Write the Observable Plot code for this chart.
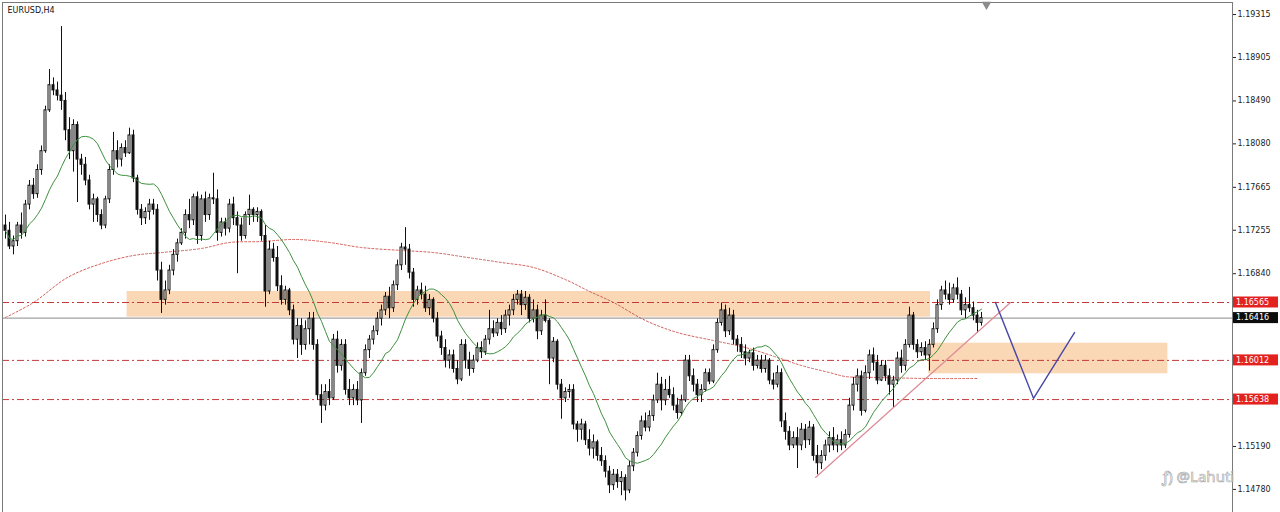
<!DOCTYPE html>
<html><head><meta charset="utf-8">
<script src="https://cdn.jsdelivr.net/npm/d3@7"></script>
<script src="https://cdn.jsdelivr.net/npm/@observablehq/plot@0.6"></script>
<style>
body{margin:0;background:#fff;}
#chart{width:1280px;height:512px;overflow:hidden;}
</style></head><body><div id="chart"></div>
<script>
const symbolName = "EURUSD,H4";
const watermark = "ƒ) @Lahuti";

const opens = [
1.1730,1.1725,1.1710,1.1715,1.1730,1.1723,1.1750,1.1768,1.1760,1.1783,
1.1801,1.1840,1.1864,1.1859,1.1854,1.1849,1.1821,1.1801,1.1826,1.1793,
1.1788,1.1773,1.1750,1.1755,1.1740,1.1730,1.1755,1.1783,1.1801,1.1793,
1.1804,1.1799,1.1816,1.1775,1.1745,1.1737,1.1743,1.1750,1.1745,1.1687,
1.1659,1.1668,1.1687,1.1702,1.1713,1.1723,1.1740,1.1735,1.1757,1.1720,
1.1755,1.1740,1.1756,1.1755,1.1723,1.1733,1.1727,1.1750,1.1737,1.1730,
1.1720,1.1740,1.1745,1.1740,1.1743,1.1720,1.1667,1.1707,1.1699,1.1672,
1.1659,1.1668,1.1649,1.1621,1.1634,1.1616,1.1631,1.1641,1.1616,1.1568,
1.1558,1.1571,1.1565,1.1621,1.1596,1.1616,1.1573,1.1565,1.1573,1.1563,
1.1589,1.1611,1.1621,1.1629,1.1641,1.1649,1.1662,1.1651,1.1673,1.1692,
1.1709,1.1707,1.1685,1.1659,1.1668,1.1664,1.1651,1.1659,1.1641,1.1624,
1.1613,1.1601,1.1606,1.1593,1.1583,1.1616,1.1601,1.1593,1.1601,1.1613,
1.1609,1.1621,1.1631,1.1627,1.1637,1.1631,1.1644,1.1649,1.1659,1.1664,
1.1654,1.1661,1.1641,1.1649,1.1629,1.1644,1.1639,1.1603,1.1619,1.1578,
1.1565,1.1571,1.1573,1.1540,1.1535,1.1540,1.1525,1.1517,1.1523,1.1510,
1.1505,1.1495,1.1482,1.1492,1.1485,1.1489,1.1477,1.1500,1.1513,1.1529,
1.1543,1.1537,1.1548,1.1563,1.1578,1.1563,1.1573,1.1568,1.1558,1.1551,
1.1563,1.1601,1.1586,1.1578,1.1568,1.1573,1.1589,1.1581,1.1611,1.1637,
1.1649,1.1629,1.1644,1.1621,1.1616,1.1609,1.1603,1.1608,1.1596,1.1601,
1.1593,1.1601,1.1582,1.1578,1.1589,1.1543,1.1533,1.1520,1.1527,1.1520,
1.1535,1.1525,1.1537,1.1510,1.1503,1.1510,1.1520,1.1527,1.1520,1.1525,
1.1520,1.1530,1.1558,1.1578,1.1586,1.1553,1.1589,1.1606,1.1599,1.1582,
1.1596,1.1586,1.1578,1.1582,1.1603,1.1596,1.1616,1.1644,1.1616,1.1609,
1.1613,1.1606,1.1616,1.1631,1.1654,1.1668,1.1664,1.1659,1.1670,1.1664,
1.1649,1.1654,1.1651,1.1644,1.1637];

const highs = [
1.1740,1.1733,1.1720,1.1733,1.1742,1.1754,1.1773,1.1775,1.1788,1.1806,
1.1844,1.1879,1.1871,1.1867,1.1920,1.1857,1.1833,1.1831,1.1829,1.1798,
1.1795,1.1778,1.1760,1.1757,1.1745,1.1758,1.1788,1.1819,1.1811,1.1808,
1.1811,1.1823,1.1821,1.1778,1.1750,1.1747,1.1755,1.1755,1.1750,1.1695,
1.1677,1.1692,1.1707,1.1717,1.1727,1.1745,1.1755,1.1760,1.1762,1.1759,
1.1762,1.1760,1.1780,1.1764,1.1737,1.1737,1.1755,1.1757,1.1743,1.1737,
1.1743,1.1759,1.1747,1.1747,1.1745,1.1730,1.1715,1.1713,1.1710,1.1682,
1.1672,1.1670,1.1654,1.1641,1.1641,1.1639,1.1647,1.1647,1.1621,1.1578,
1.1578,1.1583,1.1626,1.1629,1.1621,1.1621,1.1583,1.1578,1.1581,1.1593,
1.1616,1.1625,1.1634,1.1647,1.1654,1.1666,1.1671,1.1677,1.1697,1.1713,
1.1728,1.1712,1.1689,1.1672,1.1675,1.1672,1.1664,1.1661,1.1647,1.1629,
1.1621,1.1611,1.1611,1.1601,1.1621,1.1621,1.1609,1.1606,1.1618,1.1619,
1.1625,1.1649,1.1639,1.1641,1.1644,1.1649,1.1654,1.1664,1.1668,1.1668,
1.1667,1.1664,1.1659,1.1654,1.1649,1.1659,1.1641,1.1623,1.1621,1.1583,
1.1575,1.1578,1.1578,1.1543,1.1545,1.1543,1.1535,1.1530,1.1525,1.1518,
1.1510,1.1500,1.1497,1.1497,1.1495,1.1492,1.1505,1.1517,1.1533,1.1548,
1.1551,1.1553,1.1568,1.1589,1.1585,1.1583,1.1586,1.1575,1.1565,1.1568,
1.1606,1.1606,1.1593,1.1583,1.1578,1.1593,1.1593,1.1616,1.1641,1.1656,
1.1654,1.1651,1.1649,1.1625,1.1623,1.1616,1.1611,1.1613,1.1606,1.1606,
1.1606,1.1603,1.1589,1.1596,1.1593,1.1551,1.1538,1.1533,1.1537,1.1541,
1.1540,1.1543,1.1540,1.1520,1.1515,1.1525,1.1533,1.1537,1.1530,1.1533,
1.1535,1.1565,1.1585,1.1593,1.1591,1.1596,1.1611,1.1613,1.1606,1.1601,
1.1601,1.1593,1.1586,1.1609,1.1611,1.1621,1.1652,1.1647,1.1621,1.1618,
1.1619,1.1621,1.1637,1.1659,1.1672,1.1677,1.1675,1.1674,1.1680,1.1668,
1.1661,1.1671,1.1657,1.1649,1.1647];

const lows = [
1.1717,1.1707,1.1702,1.1710,1.1717,1.1719,1.1745,1.1755,1.1756,1.1778,
1.1799,1.1838,1.1854,1.1849,1.1840,1.1811,1.1793,1.1781,1.1752,1.1778,
1.1768,1.1745,1.1733,1.1733,1.1726,1.1727,1.1751,1.1778,1.1785,1.1786,
1.1795,1.1798,1.1771,1.1740,1.1730,1.1731,1.1735,1.1740,1.1677,1.1646,
1.1654,1.1664,1.1682,1.1695,1.1711,1.1717,1.1727,1.1730,1.1712,1.1715,
1.1733,1.1735,1.1750,1.1715,1.1719,1.1720,1.1723,1.1730,1.1684,1.1715,
1.1717,1.1730,1.1733,1.1733,1.1715,1.1652,1.1664,1.1695,1.1667,1.1654,
1.1654,1.1644,1.1616,1.1603,1.1606,1.1611,1.1616,1.1611,1.1563,1.1541,
1.1553,1.1558,1.1563,1.1589,1.1591,1.1568,1.1558,1.1558,1.1558,1.1541,
1.1586,1.1603,1.1616,1.1625,1.1634,1.1644,1.1641,1.1647,1.1668,1.1687,
1.1692,1.1679,1.1652,1.1654,1.1659,1.1647,1.1644,1.1637,1.1619,1.1606,
1.1594,1.1593,1.1589,1.1578,1.1581,1.1593,1.1586,1.1589,1.1599,1.1603,
1.1606,1.1616,1.1623,1.1624,1.1625,1.1627,1.1634,1.1644,1.1654,1.1644,
1.1649,1.1637,1.1637,1.1621,1.1625,1.1637,1.1578,1.1599,1.1573,1.1545,
1.1561,1.1565,1.1535,1.1523,1.1525,1.1520,1.1510,1.1507,1.1505,1.1500,
1.1489,1.1474,1.1477,1.1479,1.1472,1.1467,1.1474,1.1495,1.1509,1.1525,
1.1533,1.1533,1.1543,1.1560,1.1553,1.1558,1.1565,1.1553,1.1545,1.1548,
1.1561,1.1581,1.1571,1.1561,1.1561,1.1571,1.1578,1.1579,1.1608,1.1634,
1.1623,1.1625,1.1616,1.1609,1.1603,1.1596,1.1599,1.1591,1.1593,1.1589,
1.1589,1.1578,1.1573,1.1575,1.1537,1.1525,1.1515,1.1517,1.1498,1.1515,
1.1517,1.1520,1.1505,1.1492,1.1497,1.1505,1.1513,1.1515,1.1513,1.1515,
1.1517,1.1527,1.1553,1.1571,1.1548,1.1551,1.1583,1.1591,1.1578,1.1581,
1.1581,1.1568,1.1556,1.1578,1.1589,1.1591,1.1613,1.1611,1.1603,1.1605,
1.1601,1.1591,1.1613,1.1627,1.1649,1.1659,1.1654,1.1656,1.1659,1.1644,
1.1641,1.1647,1.1639,1.1627,1.1634];

const closes = [
1.1725,1.1710,1.1715,1.1730,1.1723,1.1750,1.1768,1.1760,1.1783,1.1801,
1.1840,1.1864,1.1859,1.1854,1.1849,1.1821,1.1801,1.1826,1.1793,1.1788,
1.1773,1.1750,1.1755,1.1740,1.1730,1.1755,1.1783,1.1801,1.1793,1.1804,
1.1799,1.1816,1.1775,1.1745,1.1737,1.1743,1.1750,1.1745,1.1687,1.1659,
1.1668,1.1687,1.1702,1.1713,1.1723,1.1740,1.1735,1.1757,1.1720,1.1755,
1.1740,1.1756,1.1755,1.1723,1.1733,1.1727,1.1750,1.1737,1.1730,1.1720,
1.1740,1.1745,1.1740,1.1743,1.1720,1.1667,1.1707,1.1699,1.1672,1.1659,
1.1668,1.1649,1.1621,1.1634,1.1616,1.1631,1.1641,1.1616,1.1568,1.1558,
1.1571,1.1565,1.1621,1.1596,1.1616,1.1573,1.1565,1.1573,1.1563,1.1589,
1.1611,1.1621,1.1629,1.1641,1.1649,1.1662,1.1651,1.1673,1.1692,1.1709,
1.1707,1.1685,1.1659,1.1668,1.1664,1.1651,1.1659,1.1641,1.1624,1.1613,
1.1601,1.1606,1.1593,1.1583,1.1616,1.1601,1.1593,1.1601,1.1613,1.1609,
1.1621,1.1631,1.1627,1.1637,1.1631,1.1644,1.1649,1.1659,1.1664,1.1654,
1.1661,1.1641,1.1649,1.1629,1.1644,1.1639,1.1603,1.1619,1.1578,1.1565,
1.1571,1.1573,1.1540,1.1535,1.1540,1.1525,1.1517,1.1523,1.1510,1.1505,
1.1495,1.1482,1.1492,1.1485,1.1489,1.1477,1.1500,1.1513,1.1529,1.1543,
1.1537,1.1548,1.1563,1.1578,1.1563,1.1573,1.1568,1.1558,1.1551,1.1563,
1.1601,1.1586,1.1578,1.1568,1.1573,1.1589,1.1581,1.1611,1.1637,1.1649,
1.1629,1.1644,1.1621,1.1616,1.1609,1.1603,1.1608,1.1596,1.1601,1.1593,
1.1601,1.1582,1.1578,1.1589,1.1543,1.1533,1.1520,1.1527,1.1520,1.1535,
1.1525,1.1537,1.1510,1.1503,1.1510,1.1520,1.1527,1.1520,1.1525,1.1520,
1.1530,1.1558,1.1578,1.1586,1.1553,1.1589,1.1606,1.1599,1.1582,1.1596,
1.1586,1.1578,1.1582,1.1603,1.1596,1.1616,1.1644,1.1616,1.1609,1.1613,
1.1606,1.1616,1.1631,1.1654,1.1668,1.1664,1.1659,1.1670,1.1664,1.1649,
1.1654,1.1651,1.1644,1.1637,1.16416];

// slow (long-period) moving average, read at sampled bars
const slowMaBar = [0,7,15.5,24,32,39,49,56,64,72.5,81,89,99,107,115.5,124,132,140.5,145.5,152,160,168,177,185,193,199,206,210,218,231,243];
const slowMaVal = [1.16422,1.16565,1.16804,1.16937,1.17014,1.17042,1.17081,1.17138,1.17147,1.17167,1.17138,1.17090,1.17062,1.17042,1.16995,1.16947,1.16899,1.16775,1.16680,1.16565,1.16393,1.16278,1.16202,1.16135,1.16040,1.15963,1.15896,1.15858,1.15849,1.15839,1.15839];
const fastMaPeriod = 14;

// axis
const axisTicks = [1.19315,1.18905,1.18490,1.18080,1.17665,1.17255,1.16840,1.15190,1.14780];
const levelPrices = [1.16565,1.16012,1.15638];
const currentPrice = 1.16416;
const tagPrices = [1.16565,1.16416,1.16012,1.15638];

// zones (bar index start/end, price top/bottom)
const zoneStart = [30.4, 230.8];
const zoneEnd = [231.25, 290.6];
const zoneTop = [1.16670, 1.16176];
const zoneBottom = [1.16425, 1.15884];

// rising trendline
const trendBar = [202.5, 251.25];
const trendPrice = [1.14894, 1.16565];

// projected path
const pathBar = [247.5, 257, 267.25];
const pathPrice = [1.16565, 1.15650, 1.16278];

const shiftMarkerBar = [245.25];

// ---- build tables
const candles = opens.map((o, i) => ({i, o, h: highs[i], l: lows[i], c: closes[i]}));
const slowMa = slowMaBar.map((b, k) => ({b, v: slowMaVal[k]}));
const zones = zoneStart.map((s, k) => ({s, e: zoneEnd[k], t: zoneTop[k], b: zoneBottom[k]}));
const trend = trendBar.map((b, k) => ({b, p: trendPrice[k]}));
const path = pathBar.map((b, k) => ({b, p: pathPrice[k]}));

const FONT = "DejaVu Sans";
const chart = Plot.plot({
  width: 1280, height: 512,
  marginLeft: 2, marginTop: 2, marginRight: 48, marginBottom: -10,
  x: {domain: [-0.75, 306.75], axis: null},
  y: {domain: [1.14464, 1.19430], axis: "right", ticks: axisTicks,
      tickFormat: d => d.toFixed(5), tickSize: 3, tickPadding: 2, label: null},
  style: {fontFamily: FONT, fontSize: "8px", color: "#222", background: "white"},
  marks: [
    Plot.rect(zones, {x1: "s", x2: "e", y1: "b", y2: "t", fill: "#fad7b5"}),
    Plot.ruleY(levelPrices, {stroke: "#c43a3a", strokeWidth: 1, strokeDasharray: "7,3,2,3"}),
    Plot.ruleY([currentPrice], {stroke: "#8a8a8a", strokeWidth: 1}),
    Plot.line(slowMa, {x: "b", y: "v", stroke: "#d0605a", strokeWidth: 1, strokeDasharray: "2,2", curve: "catmull-rom"}),
    Plot.ruleX(candles, {x: "i", y1: "l", y2: "h", stroke: "#111", strokeWidth: 1}),
    Plot.rect(candles, {x1: d => d.i - 0.5, x2: d => d.i + 0.5, y1: "o", y2: "c",
      insetLeft: 1, insetRight: 1,
      fill: d => d.c >= d.o ? "#ffffff" : "#111111", stroke: "#111", strokeWidth: 1}),
    Plot.lineY(candles, Plot.windowY({k: fastMaPeriod, anchor: "end", reduce: "mean"},
      {x: "i", y: "c", stroke: "#3f8f3f", strokeWidth: 1})),
    Plot.line(trend, {x: "b", y: "p", stroke: "#de8a96", strokeWidth: 1.2}),
    Plot.line(path, {x: "b", y: "p", stroke: "#4848a6", strokeWidth: 1.4}),
    Plot.frame({stroke: "#7a7a7a"}),
    Plot.dot(shiftMarkerBar, {x: d => d, frameAnchor: "top", symbol: "triangle", r: 3.6,
      rotate: 180, fill: "#8c8c8c", stroke: "none", dy: 2}),
    Plot.text([symbolName], {frameAnchor: "top-left", dx: 5, dy: 5, lineAnchor: "top",
      textAnchor: "start", fill: "#111", fontSize: 8})
  ]
});
document.getElementById("chart").appendChild(chart);

// price tags on the right axis
const yS = chart.scale("y");
const svg = d3.select(chart);
tagPrices.forEach(p => {
  const yy = yS.apply(p);
  const g = svg.append("g");
  g.append("rect").attr("x", 1233).attr("y", yy - 5.5).attr("width", 45).attr("height", 11)
    .attr("fill", p === currentPrice ? "#0c0c0c" : "#e3221f");
  g.append("text").attr("x", 1236).attr("y", yy).attr("dy", "0.34em")
    .attr("text-anchor", "start")
    .attr("fill", "#fff").style("font-family", FONT).style("font-size", "8px")
    .text(p.toFixed(5));
});

// watermark (kept clear of the axis labels)
svg.append("text").attr("x", 1162).attr("y", 482).attr("text-anchor", "start")
  .attr("fill", "#ffffff").attr("fill-opacity", 0.6).attr("stroke", "#a0a0a0").attr("stroke-width", 0.6)
  .style("font-family", "Noto Sans").style("font-size", "15px")
  .text(watermark);
</script></body></html>
